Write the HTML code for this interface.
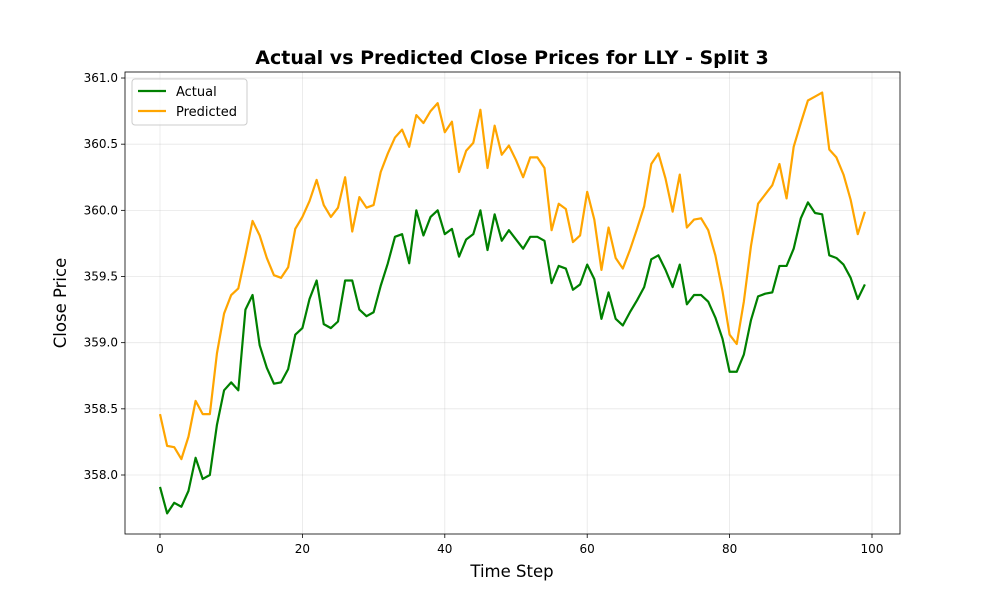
<!DOCTYPE html>
<html><head><meta charset="utf-8"><style>
body{margin:0;background:#fff;font-family:"Liberation Sans","DejaVu Sans",sans-serif}
svg text{font-family:"DejaVu Sans","Liberation Sans",sans-serif}
</style></head><body>
<svg id="chart" width="1000" height="600" xmlns="http://www.w3.org/2000/svg"></svg>
<script>
const xTicks=[0,20,40,60,80,100];
const yTicks=[358.0,358.5,359.0,359.5,360.0,360.5,361.0];
const actual=[357.91,357.71,357.79,357.76,357.88,358.13,357.97,358.00,358.38,358.64,358.70,358.64,359.25,359.36,358.98,358.81,358.69,358.70,358.80,359.06,359.11,359.33,359.47,359.14,359.11,359.16,359.47,359.47,359.25,359.20,359.23,359.43,359.60,359.80,359.82,359.60,360.00,359.81,359.95,360.00,359.82,359.86,359.65,359.78,359.82,360.00,359.70,359.97,359.77,359.85,359.78,359.71,359.80,359.80,359.77,359.45,359.58,359.56,359.40,359.44,359.59,359.48,359.18,359.38,359.18,359.13,359.23,359.32,359.42,359.63,359.66,359.55,359.42,359.59,359.29,359.36,359.36,359.31,359.19,359.03,358.78,358.78,358.91,359.17,359.35,359.37,359.38,359.58,359.58,359.71,359.94,360.06,359.98,359.97,359.66,359.64,359.59,359.49,359.33,359.44];
const predicted=[358.46,358.22,358.21,358.12,358.29,358.56,358.46,358.46,358.92,359.22,359.36,359.41,359.66,359.92,359.81,359.64,359.51,359.49,359.57,359.86,359.95,360.07,360.23,360.04,359.95,360.02,360.25,359.84,360.10,360.02,360.04,360.29,360.43,360.55,360.61,360.48,360.72,360.66,360.75,360.81,360.59,360.67,360.29,360.45,360.51,360.76,360.32,360.64,360.42,360.49,360.38,360.25,360.40,360.40,360.32,359.85,360.05,360.01,359.76,359.81,360.14,359.93,359.55,359.87,359.64,359.56,359.70,359.86,360.03,360.35,360.43,360.24,359.99,360.27,359.87,359.93,359.94,359.85,359.66,359.39,359.06,358.99,359.31,359.73,360.05,360.12,360.19,360.35,360.09,360.48,360.66,360.83,360.86,360.89,360.46,360.40,360.27,360.08,359.82,359.99];
const NS="http://www.w3.org/2000/svg";
const svg=document.getElementById('chart');
const L=125,R=900,T=72,B=534;
const xs=v=>160+(v/100)*712;
const ys=v=>475-(v-358)*132.33;
function mk(t,a,p){const e=document.createElementNS(NS,t);for(const k in a)e.setAttribute(k,a[k]);(p||svg).appendChild(e);return e;}
xTicks.forEach(t=>{const g=mk('line',{x1:xs(t),x2:xs(t),y1:T,y2:B,stroke:'#b0b0b0','stroke-opacity':0.3,'stroke-width':0.8});

});
yTicks.forEach(t=>{const g=mk('line',{x1:L,x2:R,y1:ys(t),y2:ys(t),stroke:'#b0b0b0','stroke-opacity':0.3,'stroke-width':0.8});

});
function series(d,c,n){const p=mk('polyline',{points:d.map((v,i)=>xs(i)+','+ys(v)).join(' '),fill:'none',stroke:c,'stroke-width':2.2,'stroke-linejoin':'round'});

}
series(actual,'green','actual-line');
series(predicted,'orange','predicted-line');
const fr=mk('rect',{x:L,y:T,width:R-L,height:B-T,fill:'none',stroke:'#000','stroke-width':0.8});


xTicks.forEach(t=>{mk('line',{x1:xs(t),x2:xs(t),y1:B,y2:B+4,stroke:'#000','stroke-width':0.8});
const tx=mk('text',{x:xs(t),y:B+19,'text-anchor':'middle','font-size':12});tx.textContent=t;

});
yTicks.forEach(t=>{mk('line',{x1:L-4,x2:L,y1:ys(t),y2:ys(t),stroke:'#000','stroke-width':0.8});
const tx=mk('text',{x:L-7,y:ys(t)+4,'text-anchor':'end','font-size':12});tx.textContent=t.toFixed(1);

});
</script>
<svg style="position:absolute;left:0;top:0" width="1000" height="600">
<text x="512" y="64" text-anchor="middle" font-size="19" font-weight="bold">Actual vs Predicted Close Prices for LLY - Split 3</text>
<text x="512" y="577" text-anchor="middle" font-size="16.5">Time Step</text>
<text transform="translate(66,303) rotate(-90)" text-anchor="middle" font-size="16.5">Close Price</text>
<g>
<rect x="132" y="79" width="115" height="46" rx="3" fill="#fff" fill-opacity="0.8" stroke="#ccc"/>
<line x1="138" x2="166" y1="91" y2="91" stroke="green" stroke-width="2.2"/>
<text x="176" y="96" font-size="13">Actual</text>
<line x1="138" x2="166" y1="111" y2="111" stroke="orange" stroke-width="2.2"/>
<text x="176" y="116" font-size="13">Predicted</text>
</g>
</svg>
</body></html>
